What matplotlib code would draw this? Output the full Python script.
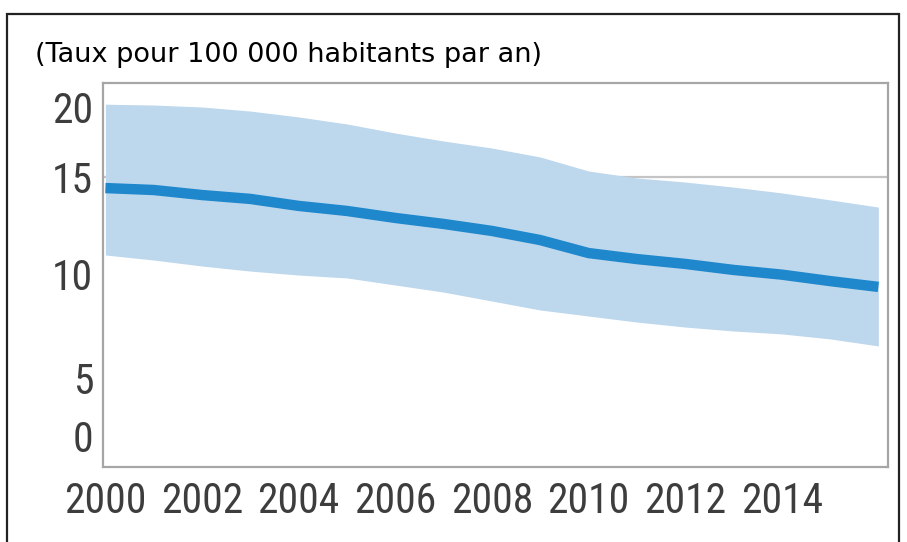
import numpy as np
import matplotlib
matplotlib.use("Agg")
import matplotlib.pyplot as plt
from matplotlib.patches import Rectangle

# Annual rate per 100 000 inhabitants, with its uncertainty band
years = [2000, 2001, 2002, 2003, 2004, 2005, 2006, 2007, 2008,
         2009, 2010, 2011, 2012, 2013, 2014, 2015, 2016]
rate = [14.43, 14.33, 14.07, 13.87, 13.51, 13.25, 12.89, 12.58, 12.22,
        11.75, 11.08, 10.77, 10.52, 10.21, 9.97, 9.66, 9.38]
upper = [20.2, 20.14, 20.0, 19.71, 19.29, 18.79, 18.14, 17.57, 17.07,
         16.43, 15.43, 14.95, 14.74, 14.48, 14.18, 13.82, 13.45]
lower = [10.98, 10.72, 10.41, 10.15, 9.95, 9.81, 9.47, 9.13, 8.70,
         8.27, 7.98, 7.69, 7.45, 7.26, 7.12, 6.88, 6.54]

y_ticks = [0, 5, 10, 15, 20]
x_ticks = [2000, 2002, 2004, 2006, 2008, 2010, 2012, 2014]
title = "(Taux pour 100 000 habitants par an)"

# Uneven vertical axis: each labelled value sits at its own height
scale_vals = np.array([-10, 0, 5, 10, 15, 20, 30], dtype=float)
scale_pos = np.array([-85, 31, 89, 193, 290, 360, 500], dtype=float)


def forward(v):
    return np.interp(v, scale_vals, scale_pos)


def inverse(h):
    return np.interp(h, scale_pos, scale_vals)


fig = plt.figure(figsize=(9.07, 5.42), dpi=100)
fig.patch.set_facecolor("white")

# Outer frame around the whole graphic
fig.add_artist(Rectangle((7 / 907, -0.05), 892 / 907, 1.05 - 14 / 542,
                         transform=fig.transFigure, fill=False,
                         edgecolor="#222222", linewidth=1.6))

fig.text(35 / 907, 1 - 62 / 542, title, fontsize=19.5, family="DejaVu Sans",
         color="black", ha="left", va="baseline")

ax = fig.add_axes([103 / 907, 75 / 542, 785 / 907, 384 / 542])
ax.set_yscale("function", functions=(forward, inverse))

ax.axhline(15, color="#c4c4c4", linewidth=1.6, zorder=1)
ax.fill_between(years, lower, upper, color="#bdd7ed", linewidth=0, zorder=2)
ax.plot(years, rate, color="#1f87cc", linewidth=7.5, solid_capstyle="butt",
        zorder=3)

ax.set_xlim(1999.95, 2016.2)
ax.set_ylim(inverse(0), inverse(384))
ax.set_yticks(y_ticks)
ax.set_xticks(x_ticks)
ax.set_yticklabels([str(v) for v in y_ticks])
ax.set_xticklabels([str(v) for v in x_ticks])
ax.minorticks_off()

for lab in ax.get_xticklabels() + ax.get_yticklabels():
    lab.set_fontfamily(["Roboto Condensed", "Liberation Sans"])
    lab.set_fontsize(30)
    lab.set_color("#3d3d3d")

ax.tick_params(axis="both", length=0)
ax.tick_params(axis="x", pad=10)
ax.tick_params(axis="y", pad=7)

for spine in ax.spines.values():
    spine.set_color("#a6a6a6")
    spine.set_linewidth(1.6)

fig.savefig("out.png", dpi=100, facecolor="white")
